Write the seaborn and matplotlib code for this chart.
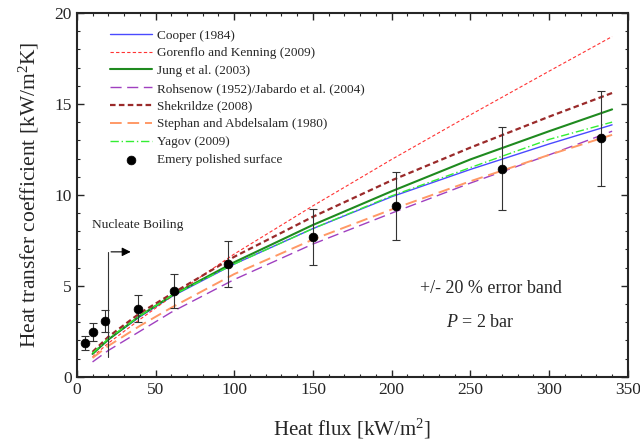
import numpy as np
import pandas as pd
import matplotlib
matplotlib.use('Agg')
import matplotlib.pyplot as plt
import seaborn as sns
from matplotlib.ticker import MultipleLocator

sns.set_style('ticks')
plt.rcParams['font.family'] = ['Liberation Serif', 'DejaVu Serif']
plt.rcParams['mathtext.fontset'] = 'custom'
plt.rcParams['mathtext.rm'] = 'Liberation Serif'
plt.rcParams['mathtext.it'] = 'Liberation Serif:italic'

# heat flux grid for correlations [kW/m2]
q_corr = [10, 20, 40, 60, 100, 150, 200, 250, 300, 340]

cooper = [1.28, 2.05, 3.3, 4.4, 6.2, 8.15, 9.9, 11.4, 12.8, 13.85]
gorenflo = [1.1, 1.85, 3.15, 4.4, 6.75, 9.4, 11.95, 14.4, 16.8, 18.7]
jung = [1.26, 2.05, 3.35, 4.45, 6.3, 8.35, 10.2, 11.95, 13.5, 14.7]
rohsenow = [0.82, 1.45, 2.5, 3.55, 5.35, 7.3, 9.0, 10.65, 12.2, 13.5]
shekrildze = [1.37, 2.2, 3.5, 4.55, 6.6, 8.8, 10.8, 12.6, 14.3, 15.6]
stephan = [1.04, 1.7, 2.8, 3.8, 5.65, 7.55, 9.2, 10.75, 12.2, 13.3]
yagov = [1.3, 2.1, 3.35, 4.45, 6.2, 8.15, 9.95, 11.5, 13.05, 14.0]

# measured points
q_exp = [5, 10, 18, 39, 62, 96, 150, 203, 270, 333]
h_exp = [1.85, 2.45, 3.05, 3.75, 4.7, 6.2, 7.7, 9.4, 11.45, 13.1]
err_frac = 0.2

series = [
    ('Cooper (1984)', cooper, '#4a4aff', 1.0, '-'),
    ('Gorenflo and Kenning (2009)', gorenflo, '#ff3333', 0.8, (0, (3, 2))),
    ('Jung et al. (2003)', jung, '#1f8a1f', 1.5, '-'),
    ('Rohsenow (1952)/Jabardo et al. (2004)', rohsenow, '#a040c0', 1.0, (0, (8, 4))),
    ('Shekrildze (2008)', shekrildze, '#9a2a2a', 1.6, (0, (2.5, 1.5))),
    ('Stephan and Abdelsalam (1980)', stephan, '#ff9966', 1.4, (0, (6, 3))),
    ('Yagov (2009)', yagov, '#33ee33', 1.0, (0, (6, 2, 1, 2))),
]

fig = plt.figure(figsize=(6.4, 4.46), dpi=100)
ax = fig.add_axes([0.120, 0.155, 0.861, 0.816])

for name, vals, col, lw, ls in series:
    sns.lineplot(x=q_corr, y=vals, ax=ax, color=col, linewidth=lw, linestyle=ls, label=name)

yerr = [err_frac * h for h in h_exp]
ax.errorbar(q_exp, h_exp, yerr=yerr, fmt='none', ecolor='#333333', elinewidth=0.8,
            capsize=3, capthick=0.8, zorder=3)
sns.scatterplot(x=q_exp, y=h_exp, ax=ax, color='black', s=40, edgecolor='black',
                zorder=4, label='Emery polished surface')

# nucleate boiling marker
ax.annotate('', xy=(36, 6.87), xytext=(20, 6.87),
            arrowprops=dict(arrowstyle='-|>', color='black', lw=0.8, mutation_scale=13))
ax.plot([20, 20], [1.1, 6.87], color='#333333', lw=0.8)
ax.text(9.6, 8.35, 'Nucleate Boiling', fontsize=9.6, va='center', ha='left')

ax.text(263, 4.85, '+/- 20 % error band', fontsize=13, ha='center', va='center')
ax.text(256, 3.0, '$P$ = 2 bar', fontsize=13, ha='center', va='center')

ax.set_xlim(0, 350)
ax.set_ylim(0, 20)
ax.xaxis.set_major_locator(MultipleLocator(50))
ax.xaxis.set_minor_locator(MultipleLocator(10))
ax.yaxis.set_major_locator(MultipleLocator(5))
ax.yaxis.set_minor_locator(MultipleLocator(1))
ax.tick_params(which='both', direction='in', top=True, right=True, labelsize=12.5)
ax.tick_params(which='major', length=5, width=1)
ax.tick_params(which='minor', length=2.5, width=0.8)
for sp in ax.spines.values():
    sp.set_linewidth(1.5)

ax.set_xlabel('Heat flux [kW/m$^2$]', fontsize=15, labelpad=14)
ax.set_ylabel('Heat transfer coefficient [kW/m$^2$K]', fontsize=15.5, labelpad=10)

ax.legend(loc='upper left', bbox_to_anchor=(0.06, 0.955), frameon=False, fontsize=9.5,
          handlelength=3.2, handletextpad=0.35, labelspacing=0.42, borderpad=0,
          borderaxespad=0)

fig.savefig('out.png', dpi=100)
